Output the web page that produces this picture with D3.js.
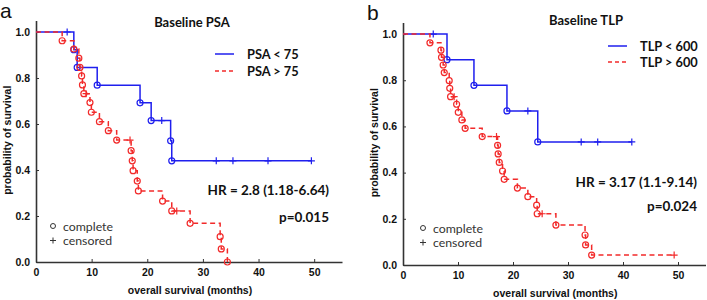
<!DOCTYPE html>
<html>
<head>
<meta charset="utf-8">
<script src="https://cdn.jsdelivr.net/npm/d3@7"></script>
<style>
  body { margin: 0; background: #fff; }
  svg { display: block; }
  .tick text { font-family: "Liberation Sans", Arial, sans-serif; font-weight: bold; font-size: 10.5px; fill: #111; }
  .axis-title { font-family: "Liberation Sans", Arial, sans-serif; font-weight: bold; font-size: 10.5px; fill: #111; }
  .cal { font-family: Lato, "Open Sans", sans-serif; }
</style>
</head>
<body>
<div id="chart"></div>
<script>
// kaplan-meier curves, two panels (baseline PSA / baseline TLP)
//````````````````````````````````````````````````````````````//

// panel a : PSA < 75 (solid blue)
let psaLowTimes = [6.8, 7.4, 11.0, 18.7, 20.7, 24.2, 24.4]
let psaLowSurv = [0.923, 0.846, 0.769, 0.692, 0.615, 0.527, 0.44]
let psaLowCensored = [5.6, 22.6, 32.4, 35.4, 41.7, 49.5]

// panel a : PSA > 75 (dashed red)
let psaHighTimes = [4.7, 6.8, 7.7, 7.9, 8.2, 8.35, 8.6, 9.7, 9.95, 11.4, 13.0, 14.5, 17.1, 17.3, 17.45, 18.2, 18.4, 22.75, 24.4, 27.7, 33.1, 33.3, 34.4]
let psaHighSurv = [0.962, 0.926, 0.886, 0.846, 0.809, 0.77, 0.732, 0.693, 0.651, 0.61, 0.571, 0.53, 0.484, 0.44, 0.397, 0.352, 0.309, 0.265, 0.222, 0.168, 0.11, 0.057, 0]
let psaHighCensored = [9.0, 16.9, 25.3]

// panel b : TLP < 600 (solid blue)
let tlpLowTimes = [8.0, 12.9, 18.9, 24.5]
let tlpLowSurv = [0.889, 0.778, 0.667, 0.533]
let tlpLowCensored = [5.5, 22.7, 32.4, 35.4, 41.6]

// panel b : TLP > 600 (dashed red)
let tlpHighTimes = [4.9, 6.9, 7.0, 7.3, 7.5, 8.4, 8.5, 8.65, 9.75, 10.05, 10.7, 11.3, 14.4, 17.2, 17.3, 17.5, 18.1, 18.4, 20.8, 22.7, 24.3, 24.4, 27.8, 33.1, 33.2, 34.3]
let tlpHighSurv = [0.962, 0.93, 0.899, 0.866, 0.833, 0.798, 0.765, 0.729, 0.696, 0.661, 0.628, 0.592, 0.556, 0.518, 0.481, 0.444, 0.407, 0.371, 0.333, 0.296, 0.259, 0.222, 0.173, 0.13, 0.087, 0.043]
let tlpHighCensored = [9.3, 17.0, 25.3, 49.3]

// ticks and labels
let xTicks = [0, 10, 20, 30, 40, 50]
let yTicks = [0, 0.2, 0.4, 0.6, 0.8, 1.0]
let panelLetters = ['a', 'b']
let panelTitles = ['Baseline PSA', 'Baseline TLP']
let groupLabels = [['PSA < 75', 'PSA > 75'], ['TLP < 600', 'TLP > 600']]
let hrLabels = ['HR = 2.8 (1.18-6.64)', 'HR = 3.17 (1.1-9.14)']
let pLabels = ['p=0.015', 'p=0.024']

let blue = '#1f1fee'
let red = '#f22a2a'

let svg = d3.select('#chart').append('svg')
    .attr('width', 707)
    .attr('height', 300)

// placement of each panel on the page
let layout = [
    {left: 36, right: 342, top: 20.5, bottom: 262, title: [192, 27], legend: [215, 54, 17], hr: [329, 194.5, 27], key: [53, 226]},
    {left: 403, right: 705.5, top: 22.5, bottom: 265, title: [586, 25], legend: [608, 46, 16], hr: [697, 186.5, 24], key: [423, 228]}
]

let curves = [
    [
        {times: psaLowTimes, surv: psaLowSurv, cens: psaLowCensored, color: blue, dash: null},
        {times: psaHighTimes, surv: psaHighSurv, cens: psaHighCensored, color: red, dash: '5,3.5'}
    ],
    [
        {times: tlpLowTimes, surv: tlpLowSurv, cens: tlpLowCensored, color: blue, dash: null},
        {times: tlpHighTimes, surv: tlpHighSurv, cens: tlpHighCensored, color: red, dash: '5,3.5'}
    ]
]

// survival value at time t (step function)
let survAt = (c, t) => {
    let s = 1
    for (let i = 0; i < c.times.length; i++) {
        if (c.times[i] <= t) s = c.surv[i]
    }
    return s
}

let drawPanel = (i) => {
    let L = layout[i]
    let g = svg.append('g')

    let x = d3.scaleLinear().domain([0, 55]).range([L.left, L.right])
    let y = d3.scaleLinear().domain([0, 1.05]).range([L.bottom, L.top])

    // axes, ticks point inward
    g.append('g')
        .attr('transform', `translate(0,${L.bottom})`)
        .call(d3.axisBottom(x).tickValues(xTicks).tickSizeInner(-3).tickSizeOuter(0).tickPadding(7))
    g.append('g')
        .attr('transform', `translate(${L.left},0)`)
        .call(d3.axisLeft(y).tickValues(yTicks).tickFormat(d3.format('.1f')).tickSizeInner(-3).tickSizeOuter(0).tickPadding(6))
    g.selectAll('.domain').attr('stroke', '#333').attr('stroke-width', 1.6)
    g.selectAll('.tick line').attr('stroke', '#333').attr('stroke-width', 1)

    g.append('text')
        .attr('class', 'axis-title')
        .attr('text-anchor', 'middle')
        .attr('x', (L.left + x(55)) / 2 + 1)
        .attr('y', L.bottom + 32)
        .text('overall survival (months)')
    g.append('text')
        .attr('class', 'axis-title')
        .attr('text-anchor', 'middle')
        .attr('transform', `translate(${L.left - 25},${(L.top + L.bottom) / 2 - 1}) rotate(-90)`)
        .text('probability of survival')

    // panel letter
    g.append('text')
        .attr('x', L.left - 36)
        .attr('y', L.top - 3)
        .attr('font-family', 'Liberation Sans, Arial, sans-serif')
        .attr('font-size', 21)
        .attr('fill', '#111')
        .text(panelLetters[i])

    // curves
    let line = d3.line()
        .x(d => x(d[0]))
        .y(d => y(d[1]))
        .curve(d3.curveStepAfter)

    curves[i].forEach(c => {
        let pts = [[0, 1]]
        c.times.forEach((t, k) => pts.push([t, c.surv[k]]))
        let endT = Math.max(d3.max(c.times), d3.max(c.cens))
        pts.push([endT, survAt(c, endT)])

        g.append('path')
            .datum(pts)
            .attr('d', line)
            .attr('fill', 'none')
            .attr('stroke', c.color)
            .attr('stroke-width', 1.5)
            .attr('stroke-dasharray', c.dash)

        // complete events -> circles
        g.selectAll(null)
            .data(c.times.map((t, k) => [t, c.surv[k]]))
            .enter()
            .append('circle')
            .attr('cx', d => x(d[0]))
            .attr('cy', d => y(d[1]))
            .attr('r', 3)
            .attr('fill', 'none')
            .attr('stroke', c.color)
            .attr('stroke-width', 1.2)

        // censored -> plus
        g.selectAll(null)
            .data(c.cens.map(t => [t, survAt(c, t)]))
            .enter()
            .append('path')
            .attr('transform', d => `translate(${x(d[0])},${y(d[1])})`)
            .attr('d', 'M-3.5,0H3.5M0,-3.5V3.5')
            .attr('stroke', c.color)
            .attr('stroke-width', 1.2)
    })

    // title
    g.append('text')
        .attr('class', 'cal')
        .attr('x', L.title[0])
        .attr('y', L.title[1])
        .attr('text-anchor', 'middle')
        .attr('font-weight', 'bold')
        .attr('font-size', 13)
        .attr('fill', '#111')
        .text(panelTitles[i])

    // group legend
    groupLabels[i].forEach((lab, k) => {
        let ly = L.legend[1] + k * L.legend[2]
        g.append('line')
            .attr('x1', L.legend[0]).attr('x2', L.legend[0] + 19)
            .attr('y1', ly).attr('y2', ly)
            .attr('stroke', k == 0 ? blue : red)
            .attr('stroke-width', 1.5)
            .attr('stroke-dasharray', k == 0 ? null : '4,3')
        g.append('text')
            .attr('class', 'cal')
            .attr('x', L.legend[0] + 32)
            .attr('y', ly + 4.5)
            .attr('font-weight', 'bold')
            .attr('font-size', 12.8)
            .attr('fill', '#111')
            .text(lab)
    })

    // hazard ratio and p value
    g.append('text')
        .attr('class', 'cal')
        .attr('x', L.hr[0]).attr('y', L.hr[1])
        .attr('text-anchor', 'end')
        .attr('font-weight', 'bold')
        .attr('font-size', 13.5)
        .attr('fill', '#111')
        .text(hrLabels[i])
    g.append('text')
        .attr('class', 'cal')
        .attr('x', L.hr[0]).attr('y', L.hr[1] + L.hr[2])
        .attr('text-anchor', 'end')
        .attr('font-weight', 'bold')
        .attr('font-size', 13.5)
        .attr('fill', '#111')
        .text(pLabels[i])

    // marker key
    g.append('circle')
        .attr('cx', L.key[0]).attr('cy', L.key[1])
        .attr('r', 2.5)
        .attr('fill', 'none')
        .attr('stroke', '#333')
        .attr('stroke-width', 1)
    g.append('path')
        .attr('transform', `translate(${L.key[0]},${L.key[1] + 14.5})`)
        .attr('d', 'M-3,0H3M0,-3V3')
        .attr('stroke', '#333')
        .attr('stroke-width', 1)
    g.append('text')
        .attr('class', 'cal')
        .attr('x', L.key[0] + 10).attr('y', L.key[1] + 4.5)
        .attr('font-size', 12.3)
        .attr('fill', '#333')
        .text('complete')
    g.append('text')
        .attr('class', 'cal')
        .attr('x', L.key[0] + 10).attr('y', L.key[1] + 19)
        .attr('font-size', 12.3)
        .attr('fill', '#333')
        .text('censored')
}

drawPanel(0)
drawPanel(1)
</script>
</body>
</html>
